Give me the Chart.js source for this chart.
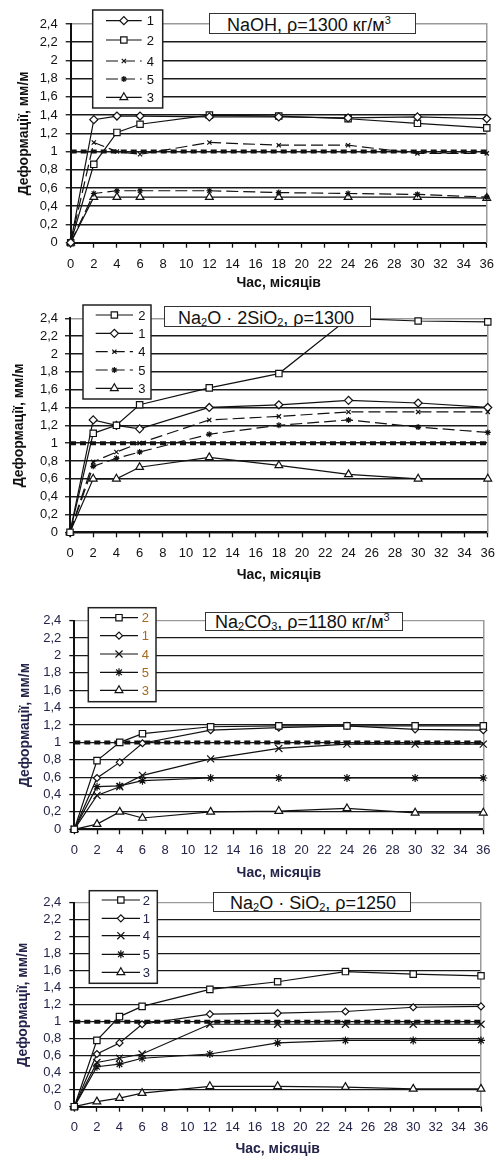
<!DOCTYPE html>
<html>
<head>
<meta charset="utf-8">
<script src="https://cdn.jsdelivr.net/npm/chart.js@4.4.1/dist/chart.umd.min.js"></script>
<style>
body{margin:0;background:#fff;width:503px;height:1159px;position:relative;overflow:hidden;font-family:'Liberation Sans',Arial,sans-serif}
canvas{position:absolute;left:0}
.tbox{position:absolute;background:#fff;border:1.5px solid #333;overflow:hidden;box-sizing:border-box;font-size:18px;line-height:18px;white-space:nowrap;color:#111}
.tbox sub,.tbox sup{font-size:11px;line-height:0}
.tbox sub{vertical-align:-2px}
.tbox sup{vertical-align:7px}
</style>
</head>
<body>
<canvas id="c1"></canvas>
<canvas id="c2"></canvas>
<canvas id="c3"></canvas>
<canvas id="c4"></canvas>
<div class="tbox" style="left:209px;top:13px;width:207px;height:21px;padding:2px 0 0 17px">NaOH, ρ=1300 кг/м<sup>3</sup></div>
<div class="tbox" style="left:164px;top:306px;width:207px;height:21px;padding:2px 0 0 13px">Na<sub>2</sub>O · 2SiO<sub>2</sub>, ρ=1300</div>
<div class="tbox" style="left:205px;top:612px;width:198px;height:19px;padding:0 0 0 9px">Na<sub>2</sub>CO<sub>3</sub>, ρ=1180 кг/м<sup>3</sup></div>
<div class="tbox" style="left:213px;top:892px;width:198px;height:20px;padding:1px 0 0 16px">Na<sub>2</sub>O · SiO<sub>2</sub>, ρ=1250</div>
<script>
// months of exposure
var months = [0, 2, 4, 6, 12, 18, 24, 30, 36];
var xTickLabels = ['0','2','4','6','8','10','12','14','16','18','20','22','24','26','28','30','32','34','36'];
var yTickLabels = ['0','0,2','0,4','0,6','0,8','1','1,2','1,4','1,6','1,8','2','2,2','2,4'];
var refX = [0, 36];
var refY = [1, 1];

// NaOH, p=1300
var naoh1 = [0, 1.35, 1.39, 1.39, 1.38, 1.38, 1.37, 1.38, 1.36];
var naoh2 = [0, 0.86, 1.21, 1.30, 1.40, 1.39, 1.36, 1.31, 1.26];
var naoh4 = [0, 1.10, 1.00, 0.97, 1.10, 1.07, 1.07, 0.98, 0.98];
var naoh5 = [0, 0.54, 0.57, 0.57, 0.57, 0.55, 0.54, 0.53, 0.50];
var naoh3 = [0, 0.50, 0.50, 0.50, 0.50, 0.50, 0.50, 0.50, 0.49];

// Na2O*2SiO2, p=1300
var disil2 = [0, 1.11, 1.20, 1.43, 1.62, 1.78, 2.40, 2.37, 2.36];
var disil1 = [0, 1.26, 1.20, 1.16, 1.40, 1.43, 1.48, 1.45, 1.40];
var disil4 = [0, 0.79, 0.90, 1.00, 1.26, 1.30, 1.35, 1.35, 1.35];
var disil5 = [0, 0.74, 0.83, 0.90, 1.10, 1.20, 1.26, 1.18, 1.12];
var disil3 = [0, 0.60, 0.60, 0.73, 0.84, 0.75, 0.65, 0.60, 0.60];

// Na2CO3, p=1180
var carb2 = [0, 0.79, 1.00, 1.10, 1.18, 1.19, 1.19, 1.19, 1.19];
var carb1 = [0, 0.59, 0.77, 0.99, 1.14, 1.17, 1.19, 1.15, 1.14];
var carb4 = [0, 0.39, 0.49, 0.62, 0.81, 0.93, 0.98, 0.98, 0.98];
var carb5 = [0, 0.49, 0.50, 0.56, 0.59, 0.59, 0.59, 0.59, 0.59];
var carb3 = [0, 0.06, 0.20, 0.13, 0.20, 0.21, 0.24, 0.19, 0.19];

// Na2O*SiO2, p=1250
var msil2 = [0, 0.78, 1.06, 1.18, 1.38, 1.47, 1.59, 1.56, 1.54];
var msil1 = [0, 0.62, 0.75, 0.97, 1.09, 1.10, 1.12, 1.17, 1.18];
var msil4 = [0, 0.52, 0.57, 0.62, 0.97, 0.97, 0.97, 0.97, 0.97];
var msil5 = [0, 0.47, 0.50, 0.57, 0.62, 0.75, 0.78, 0.78, 0.78];
var msil3 = [0, 0.06, 0.10, 0.16, 0.24, 0.24, 0.23, 0.21, 0.21];

var FONT = "'Liberation Sans', Arial, sans-serif";

function pts(xs, ys) {
    return xs.map(function(x, i) { return {x: x, y: ys[i]}; });
}

// legend drawn as a framed box inside the plot
var boxLegend = {
    id: 'boxLegend',
    afterDatasetsDraw: function(chart, args, o) {
        var ctx = chart.ctx;
        ctx.save();
        ctx.setLineDash([]);
        ctx.fillStyle = '#fff';
        ctx.strokeStyle = '#222';
        ctx.lineWidth = 1.5;
        ctx.fillRect(o.x, o.y, o.w, o.h);
        ctx.strokeRect(o.x, o.y, o.w, o.h);
        var items = chart.data.datasets.filter(function(d) { return d.label; });
        items.forEach(function(ds, i) {
            var y = o.rows[i];
            ctx.strokeStyle = ds.borderColor;
            ctx.lineWidth = ds.borderWidth;
            ctx.setLineDash(ds.borderDash || []);
            ctx.beginPath();
            ctx.moveTo(o.lineX[0], y);
            ctx.lineTo(o.lineX[1], y);
            ctx.stroke();
            ctx.setLineDash([]);
            ctx.fillStyle = '#fff';
            ctx.strokeStyle = ds.pointBorderColor;
            ctx.lineWidth = ds.pointBorderWidth;
            Chart.helpers.drawPoint(ctx, {pointStyle: ds.pointStyle, radius: ds.pointRadius, borderWidth: ds.pointBorderWidth, rotation: 0},
                (o.lineX[0] + o.lineX[1]) / 2, y);
            ctx.fillStyle = o.textColor;
            ctx.font = '13px ' + FONT;
            ctx.textBaseline = 'middle';
            ctx.textAlign = 'left';
            ctx.fillText(ds.label, o.textX, y + 1);
        });
        ctx.restore();
    }
};

function styleFor(name, big) {
    var s = {
        '1': {pointStyle: 'rectRot', pointRadius: big ? 3.5 : 4},
        '2': {pointStyle: 'rect', pointRadius: 4.5},
        '4': {pointStyle: 'crossRot', pointRadius: big ? 5 : 3},
        '5': {pointStyle: 'star', pointRadius: big ? 4 : 3},
        '3': {pointStyle: 'triangle', pointRadius: 4.5}
    };
    return s[name];
}

function build(id, L, names, series, dashed, textColor, legendColor) {
    var canvas = document.getElementById(id);
    var h = L.plot[3] - L.top + L.titleGap + 7;
    canvas.width = 503;
    canvas.height = Math.round(h);
    canvas.style.top = L.top + 'px';

    var datasets = names.map(function(n, i) {
        var st = styleFor(n, !dashed);
        var dash = dashed && (n === '4' || n === '5') ? [12, 5] : [];
        return {
            label: n,
            data: pts(months, series[i]),
            borderColor: '#111',
            borderWidth: 1.2,
            borderDash: dash,
            pointStyle: st.pointStyle,
            pointRadius: st.pointRadius,
            pointBackgroundColor: '#fff',
            pointBorderColor: '#111',
            pointBorderWidth: 1.2,
            tension: 0,
            clip: false
        };
    });
    datasets.push({
        label: '',
        data: pts(refX, refY),
        borderColor: '#111',
        borderWidth: 4,
        borderDash: [6, 4],
        pointRadius: 0,
        clip: false
    });

    var plotH = L.plot[3] - L.top;
    new Chart(canvas, {
        type: 'line',
        data: {datasets: datasets},
        plugins: [boxLegend],
        options: {
            responsive: false,
            animation: false,
            devicePixelRatio: 1,
            layout: {padding: {top: L.plot[1] - L.top, right: 503 - L.plot[2], left: 0, bottom: 0}},
            plugins: {
                legend: {display: false},
                tooltip: {enabled: false},
                boxLegend: Object.assign({textColor: legendColor}, L.legend)
            },
            scales: {
                x: {
                    type: 'linear', min: 0, max: 36,
                    afterFit: function(s) { s.height = canvas.height - plotH; },
                    afterBuildTicks: function(s) { s.ticks = xTickLabels.map(function(t, i) { return {value: i * 2}; }); },
                    ticks: {
                        autoSkip: false, maxRotation: 0, padding: L.labelPad,
                        color: textColor, font: {family: FONT, size: 13},
                        callback: function(v, i) { return xTickLabels[i]; }
                    },
                    grid: {drawOnChartArea: false, drawTicks: true, tickLength: 5, tickColor: '#111', tickWidth: 1.3},
                    border: {color: '#111', width: 2},
                    title: {display: true, text: 'Час, місяців', color: textColor, padding: 0,
                        font: {family: FONT, size: 14, weight: 'bold', lineHeight: 1}}
                },
                y: {
                    min: 0, max: 2.4,
                    afterFit: function(s) { s.width = L.plot[0]; },
                    afterBuildTicks: function(s) { s.ticks = yTickLabels.map(function(t, i) { return {value: i * 0.2}; }); },
                    ticks: {
                        autoSkip: false, padding: L.yPad,
                        color: textColor, font: {family: FONT, size: 13},
                        callback: function(v, i) { return yTickLabels[i]; }
                    },
                    grid: {
                        color: function(c) { return c.tick && Math.abs(c.tick.value - 2.4) < 1e-6 ? '#9a9a9a' : '#1a1a1a'; },
                        lineWidth: L.gridW, drawTicks: true, tickLength: 5, tickColor: '#111', tickWidth: 1.3
                    },
                    border: {color: '#111', width: 2},
                    title: {display: true, text: 'Деформації, мм/м', color: textColor, padding: {top: L.yTitlePad},
                        font: {family: FONT, size: 14, weight: 'bold', lineHeight: 1}}
                },
                y2: {
                    position: 'right', min: 0, max: 1,
                    afterFit: function(s) { s.width = 0; },
                    ticks: {display: false},
                    grid: {display: false, drawTicks: false},
                    border: {color: '#9a9a9a', width: 1.5}
                }
            }
        }
    });
}

build('c1', {
    top: 0, plot: [70.7, 24, 494, 242.7], labelPad: 9, titleGap: 40.3, yPad: 8, yTitlePad: 17, gridW: 1.5,
    legend: {x: 92.7, y: 10, w: 70, h: 98, rows: [20.7, 40, 61, 79, 97.3], lineX: [106, 141.7], textX: 146.7}
}, ['1', '2', '4', '5', '3'], [naoh1, naoh2, naoh4, naoh5, naoh3], true, '#111', '#111');

build('c2', {
    top: 290, plot: [70, 318.3, 494, 532.3], labelPad: 8, titleGap: 42.7, yPad: 7, yTitlePad: 12, gridW: 1.5,
    legend: {x: 83, y: 15, w: 68, h: 94, rows: [25, 43.3, 61.7, 80, 98.3], lineX: [95.7, 133], textX: 138.3}
}, ['2', '1', '4', '5', '3'], [disil2, disil1, disil4, disil5, disil3], true, '#111', '#111');

build('c3', {
    top: 580, plot: [74.3, 620.7, 483.3, 829.3], labelPad: 8, titleGap: 43.4, yPad: 8, yTitlePad: 18, gridW: 1.2,
    legend: {x: 88.3, y: 27.7, w: 67.7, h: 94, rows: [37.7, 55.7, 74, 92.3, 110.3], lineX: [100, 138], textX: 141.7}
}, ['2', '1', '4', '5', '3'], [carb2, carb1, carb4, carb5, carb3], false, '#24244a', '#a8681e');

build('c4', {
    top: 880, plot: [74.3, 902.7, 481, 1106.7], labelPad: 7.5, titleGap: 42.6, yPad: 8, yTitlePad: 16, gridW: 1.2,
    legend: {x: 89.3, y: 10.7, w: 68, h: 92.6, rows: [20, 38.3, 55.7, 74.3, 92.3], lineX: [101.7, 140], textX: 142.7}
}, ['2', '1', '4', '5', '3'], [msil2, msil1, msil4, msil5, msil3], false, '#24244a', '#24244a');
</script>
</body>
</html>
